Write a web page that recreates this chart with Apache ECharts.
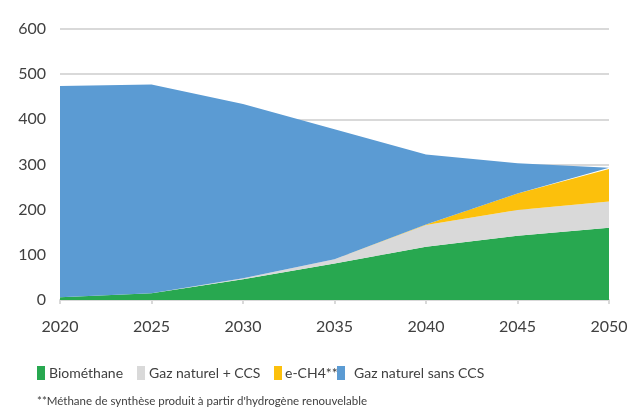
<!DOCTYPE html>
<html>
<head>
<meta charset="utf-8">
<script src="https://cdn.jsdelivr.net/npm/echarts@6/dist/echarts.min.js"></script>
<style>
  html, body { margin: 0; padding: 0; background: #fff; }
  #chart { width: 639px; height: 409px; }
</style>
</head>
<body>
<div id="chart"></div>
<script>
  // années
  var years = ['2020', '2025', '2030', '2035', '2040', '2045', '2050']
  // séries (empilées)
  var biomethane = [6, 15, 46, 81, 118, 142, 160]
  var gazCCS = [0, 0, 2, 9, 48, 57, 58]
  var eCH4 = [0, 0, 0, 0, 1, 37, 72]
  var gazSansCCS = [468, 462, 386, 288, 155, 67, 3]
  var yTicks = [0, 100, 200, 300, 400, 500, 600]

  var font = 'Lato'
  var chart = echarts.init(document.getElementById('chart'))

  function areaSerie (name, data, color) {
    return {
      name: name,
      type: 'line',
      stack: 'total',
      data: data,
      symbol: 'none',
      lineStyle: { width: 0 },
      areaStyle: { color: color, opacity: 1 },
      itemStyle: { color: color },
      emphasis: { disabled: true }
    }
  }

  // une légende par entrée pour garder les espacements d'origine
  function legendItem (name, left, padLeft) {
    return {
      data: [name],
      left: left,
      top: 361,
      icon: 'rect',
      itemWidth: 8,
      itemHeight: 14,
      itemGap: 0,
      selectedMode: false,
      textStyle: { fontFamily: font, fontSize: 14, color: '#404040', padding: [0, 0, 0, padLeft] }
    }
  }

  chart.setOption({
    animation: false,
    grid: { left: 60, right: 30, top: 29, bottom: 109 },
    legend: [
      legendItem('Biométhane', 32, -1),
      legendItem('Gaz naturel + CCS', 132, -1),
      legendItem('e-CH4**', 269, -2),
      legendItem('Gaz naturel sans CCS', 332, 4)
    ],
    graphic: [{
      type: 'text',
      left: 37,
      top: 395,
      style: { text: "**Méthane de synthèse produit à partir d'hydrogène renouvelable", fontFamily: font, fontSize: 11.5, fill: '#404040' }
    }],
    xAxis: {
      type: 'category',
      data: years,
      boundaryGap: false,
      axisLine: { lineStyle: { color: '#d9d9d9', width: 2 } },
      axisTick: { show: true, length: 4, lineStyle: { color: '#d9d9d9', width: 2 } },
      axisLabel: { fontFamily: font, fontSize: 16, color: '#404040', margin: 19 }
    },
    yAxis: {
      type: 'value',
      min: yTicks[0],
      max: yTicks[yTicks.length - 1],
      interval: 100,
      axisLine: { show: false },
      axisTick: { show: false },
      splitLine: { lineStyle: { color: '#d9d9d9', width: 2 } },
      axisLabel: { fontFamily: font, fontSize: 16, color: '#404040', margin: 14 }
    },
    series: [
      areaSerie('Biométhane', biomethane, '#28a850'),
      areaSerie('Gaz naturel + CCS', gazCCS, '#d9d9d9'),
      areaSerie('e-CH4**', eCH4, '#fcc00c'),
      areaSerie('Gaz naturel sans CCS', gazSansCCS, '#5b9bd3')
    ]
  })
</script>
</body>
</html>
